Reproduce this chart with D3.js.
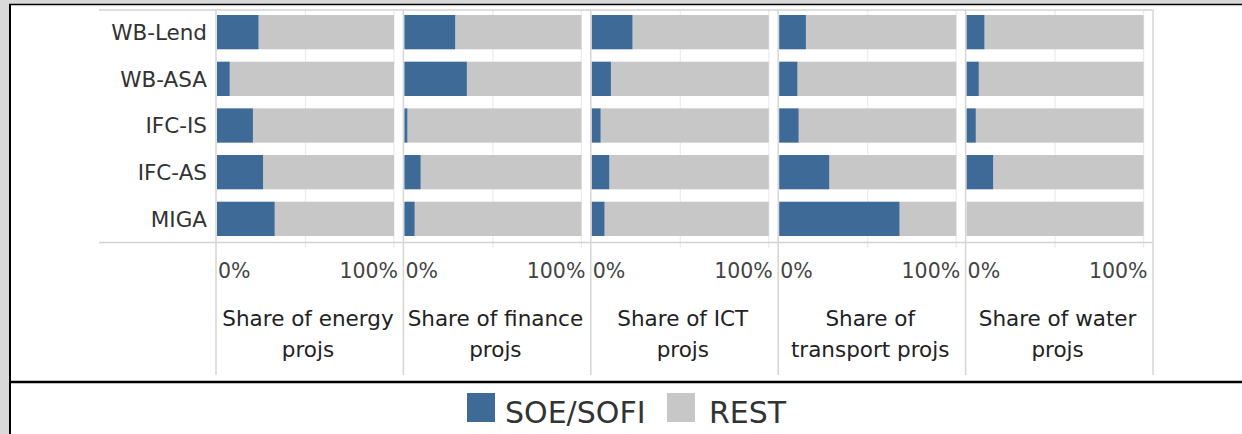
<!DOCTYPE html>
<html>
<head>
<meta charset="utf-8">
<script src="https://cdn.jsdelivr.net/npm/d3@7"></script>
<style>
  html, body { margin: 0; padding: 0; background: #fff; }
  svg { display: block; font-family: "DejaVu Sans", sans-serif; }
</style>
</head>
<body>
<div class="chart"></div>
<script>
const rows = ["WB-Lend", "WB-ASA", "IFC-IS", "IFC-AS", "MIGA"];
const panels = ["energy", "finance", "ICT", "transport", "water"];
const panelTitles = [
    ["Share of energy", "projs"],
    ["Share of finance", "projs"],
    ["Share of ICT", "projs"],
    ["Share of", "transport projs"],
    ["Share of water", "projs"]
];
// share of SOE/SOFI projects, per panel, in row order
const soeEnergy = [0.235, 0.072, 0.203, 0.26, 0.326];
const soeFinance = [0.287, 0.353, 0.017, 0.092, 0.058];
const soeICT = [0.23, 0.108, 0.05, 0.099, 0.072];
const soeTransport = [0.151, 0.103, 0.11, 0.283, 0.68];
const soeWater = [0.101, 0.069, 0.052, 0.15, 0.0];
const legendLabels = ["SOE/SOFI", "REST"];
const tickLabels = ["0%", "100%"];

const seriesByPanel = [soeEnergy, soeFinance, soeICT, soeTransport, soeWater];
const colors = { soe: "#3e6a98", rest: "#c6c7c6" };

const width = 1242, height = 434;

const svg = d3.select(".chart").append("svg")
    .attr("width", width)
    .attr("height", height);

// window frame
svg.append("rect").attr("x", 0).attr("y", 0).attr("width", 9).attr("height", height).attr("fill", "#d9d9d9");
svg.append("rect").attr("x", 0).attr("y", 0).attr("width", width).attr("height", 4).attr("fill", "#d9d9d9");
svg.append("line").attr("x1", 9).attr("x2", width).attr("y1", 4.5).attr("y2", 4.5).attr("stroke", "#000").attr("stroke-width", 1.5);
svg.append("line").attr("x1", 10).attr("x2", 10).attr("y1", 4).attr("y2", height).attr("stroke", "#000").attr("stroke-width", 2);
svg.append("line").attr("x1", 10).attr("x2", width).attr("y1", 382).attr("y2", 382).attr("stroke", "#000").attr("stroke-width", 2.5);

const xPanel = d3.scaleBand().domain(panels).range([216, 1153]);
const y = d3.scaleBand().domain(rows).range([15, 236]).paddingInner(0.265);

const frameTop = 10, frameBottom = 242.5;

// light gridlines at 50% / 100%
panels.forEach(p => {
    const x0 = xPanel(p);
    const x = d3.scaleLinear().domain([0, 1]).range([x0 + 1, x0 + 178]);
    [0.5, 1].forEach(v => {
        svg.append("line")
            .attr("x1", x(v)).attr("x2", x(v))
            .attr("y1", frameTop).attr("y2", frameBottom + 6)
            .attr("stroke", "#ebebeb").attr("stroke-width", 1.2);
    });
});

// frame lines
svg.append("line").attr("x1", 99).attr("x2", 1153).attr("y1", frameTop).attr("y2", frameTop)
    .attr("stroke", "#d3d3d3").attr("stroke-width", 1.5);
svg.append("line").attr("x1", 99).attr("x2", 1153).attr("y1", frameBottom).attr("y2", frameBottom)
    .attr("stroke", "#d3d3d3").attr("stroke-width", 1.5);

// panel dividers
svg.selectAll("line.divider")
    .data(panels.concat(["end"]))
    .enter()
    .append("line")
    .attr("class", "divider")
    .attr("x1", (d, i) => i < panels.length ? xPanel(d) : xPanel.range()[1])
    .attr("x2", (d, i) => i < panels.length ? xPanel(d) : xPanel.range()[1])
    .attr("y1", frameTop).attr("y2", 375)
    .attr("stroke", "#d6d6d6").attr("stroke-width", 1.5);

// bars
panels.forEach((p, pi) => {
    const x0 = xPanel(p);
    const x = d3.scaleLinear().domain([0, 1]).range([x0 + 1, x0 + 178]);
    const vals = seriesByPanel[pi];
    const g = svg.append("g").attr("class", "panel");

    g.selectAll("rect.rest")
        .data(rows)
        .enter()
        .append("rect")
        .attr("x", (d, i) => x(vals[i]))
        .attr("y", d => y(d))
        .attr("width", (d, i) => x(1) - x(vals[i]))
        .attr("height", y.bandwidth())
        .attr("fill", colors.rest);

    g.selectAll("rect.soe")
        .data(rows)
        .enter()
        .append("rect")
        .attr("x", x(0))
        .attr("y", d => y(d))
        .attr("width", (d, i) => x(vals[i]) - x(0))
        .attr("height", y.bandwidth())
        .attr("fill", colors.soe);

    // tick labels
    g.append("text")
        .attr("x", x(0) + 1).attr("y", 278)
        .attr("fill", "#444").style("font-size", "20.5px")
        .text(tickLabels[0]);
    g.append("text")
        .attr("x", x0 + 182).attr("y", 278)
        .attr("text-anchor", "end")
        .attr("fill", "#444").style("font-size", "20.5px")
        .text(tickLabels[1]);

    // panel title
    const t = g.append("text")
        .attr("text-anchor", "middle")
        .attr("fill", "#222").style("font-size", "21.5px");
    panelTitles[pi].forEach((line, li) => {
        t.append("tspan")
            .attr("x", x0 + 92)
            .attr("y", 326 + li * 31)
            .text(line);
    });
});

// row labels
svg.selectAll("text.row")
    .data(rows)
    .enter()
    .append("text")
    .attr("class", "row")
    .attr("x", 207)
    .attr("y", d => y(d) + y.bandwidth() / 2)
    .attr("dy", "0.36em")
    .attr("text-anchor", "end")
    .attr("fill", "#333")
    .style("font-size", "21.5px")
    .text(d => d);

// legend
const legendX = [467, 667];
const legend = svg.selectAll("g.legend")
    .data(legendLabels)
    .enter()
    .append("g")
    .attr("class", "legend")
    .attr("transform", (d, i) => `translate(${legendX[i]},393)`);
legend.append("rect")
    .attr("width", 28).attr("height", 29)
    .attr("fill", (d, i) => i === 0 ? colors.soe : colors.rest);
legend.append("text")
    .attr("x", (d, i) => i === 0 ? 38 : 42)
    .attr("y", 30)
    .attr("fill", "#333")
    .style("font-size", "30px")
    .text(d => d);
</script>
</body>
</html>
